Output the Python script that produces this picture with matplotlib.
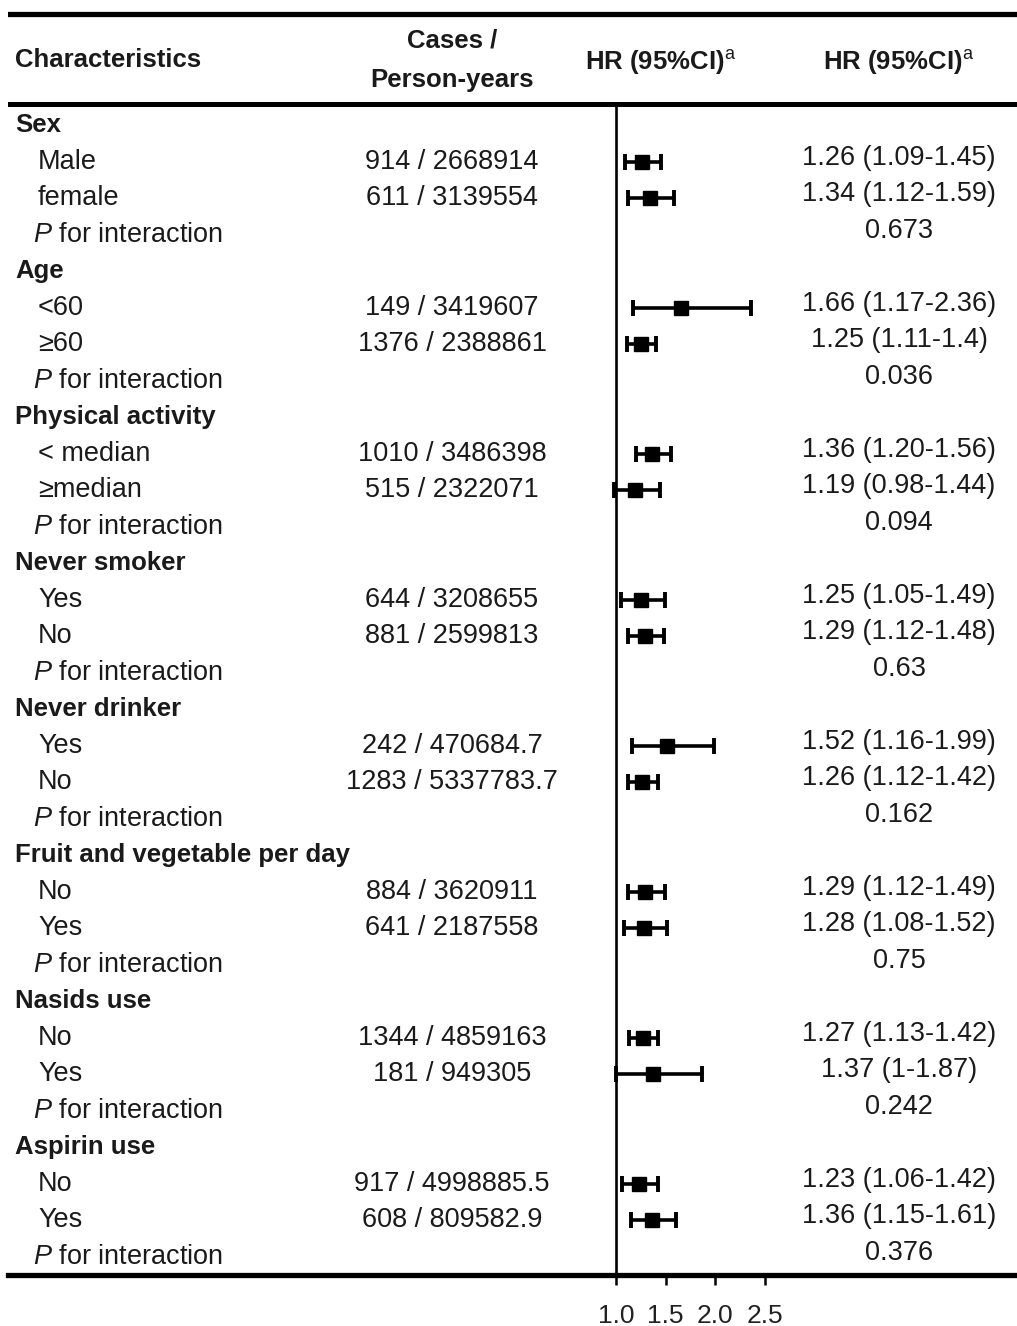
import matplotlib.pyplot as plt
import matplotlib.transforms as mtransforms

plt.rcParams["font.family"] = ["Liberation Sans", "DejaVu Sans"]
plt.rcParams["mathtext.fontset"] = "custom"
plt.rcParams["mathtext.rm"] = "Liberation Sans"
plt.rcParams["mathtext.it"] = "Liberation Sans:italic"

# Daten
groups = ["Sex", "Age", "Physical activity", "Never smoker", "Never drinker",
          "Fruit and vegetable per day", "Nasids use", "Aspirin use"]
levels = [["Male", "female"], ["<60", "≥60"], ["< median", "≥median"], ["Yes", "No"],
          ["Yes", "No"], ["No", "Yes"], ["No", "Yes"], ["No", "Yes"]]
cases = [["914 / 2668914", "611 / 3139554"], ["149 / 3419607", "1376 / 2388861"],
         ["1010 / 3486398", "515 / 2322071"], ["644 / 3208655", "881 / 2599813"],
         ["242 / 470684.7", "1283 / 5337783.7"], ["884 / 3620911", "641 / 2187558"],
         ["1344 / 4859163", "181 / 949305"], ["917 / 4998885.5", "608 / 809582.9"]]
hr = [[1.26, 1.34], [1.66, 1.25], [1.36, 1.19], [1.25, 1.29],
      [1.52, 1.26], [1.29, 1.28], [1.27, 1.37], [1.23, 1.36]]
lo = [[1.09, 1.12], [1.17, 1.11], [1.20, 0.98], [1.05, 1.12],
      [1.16, 1.12], [1.12, 1.08], [1.13, 1.00], [1.06, 1.15]]
hi = [[1.45, 1.59], [2.36, 1.40], [1.56, 1.44], [1.49, 1.48],
      [1.99, 1.42], [1.49, 1.52], [1.42, 1.87], [1.42, 1.61]]
hr_text = [["1.26 (1.09-1.45)", "1.34 (1.12-1.59)"], ["1.66 (1.17-2.36)", "1.25 (1.11-1.4)"],
           ["1.36 (1.20-1.56)", "1.19 (0.98-1.44)"], ["1.25 (1.05-1.49)", "1.29 (1.12-1.48)"],
           ["1.52 (1.16-1.99)", "1.26 (1.12-1.42)"], ["1.29 (1.12-1.49)", "1.28 (1.08-1.52)"],
           ["1.27 (1.13-1.42)", "1.37 (1-1.87)"], ["1.23 (1.06-1.42)", "1.36 (1.15-1.61)"]]
p_inter = ["0.673", "0.036", "0.094", "0.63", "0.162", "0.75", "0.242", "0.376"]
ticks = [1.0, 1.5, 2.0, 2.5]

W, H = 1017, 1326
fig = plt.figure(figsize=(W / 100, H / 100), dpi=100)

# Achse ueber die ganze Breite; x = HR, y = Zeilenindex
row0, step = 125, 36.5   # Pixel der ersten Zeile, Zeilenabstand
left_px, bottom_px = 8, 1275
ax = fig.add_axes([left_px / W, (H - bottom_px) / H, 1 - left_px / W, bottom_px / H])
ppu = 99.0  # Pixel pro HR-Einheit
ax.set_xlim(1 - (616 - left_px) / ppu, 1 + (W - 616) / ppu)
ax.set_ylim((bottom_px - row0) / step, -row0 / step)

for s in ["top", "left", "right"]:
    ax.spines[s].set_visible(False)
ax.spines["bottom"].set_linewidth(3.8)
ax.set_yticks([])
ax.set_xticks(ticks)
ax.set_xticklabels([f"{t:.1f}" for t in ticks], fontsize=19, color="#222222")
ax.tick_params(axis="x", direction="out", length=7, width=1.8, pad=14)

def ypix(p):
    return (p - row0) / step

ax.axhline(ypix(14), color="black", lw=3.8)
ax.axhline(ypix(104), color="black", lw=3.6)
ax.vlines(1.0, ypix(104), (bottom_px - row0) / step, color="black", lw=1.9)

tr = mtransforms.blended_transform_factory(fig.transFigure, ax.transData)
x_grp, x_sub, x_p, x_case, x_hr = 15 / W, 38 / W, 33 / W, 452 / W, 899 / W
txt = "#1a1a1a"

# Kopfzeile
ax.text(x_grp, ypix(60), "Characteristics", transform=tr, fontsize=18.5,
        fontweight="bold", va="center", color=txt)
ax.text(x_case, ypix(40), "Cases /", transform=tr, fontsize=18.5,
        fontweight="bold", va="center", ha="center", color=txt)
ax.text(x_case, ypix(80), "Person-years", transform=tr, fontsize=18.5,
        fontweight="bold", va="center", ha="center", color=txt)
for xc in [661 / W, x_hr]:
    ax.text(xc, ypix(62), r"HR (95%CI)$^\mathrm{a}$", transform=tr, fontsize=18.5,
            fontweight="bold", va="center", ha="center", color=txt)

row = 0
for g in range(len(groups)):
    ax.text(x_grp, row, groups[g], transform=tr, fontsize=18.5,
            fontweight="bold", va="center", color=txt)
    row += 1
    for k in range(2):
        ax.text(x_sub, row, levels[g][k], transform=tr, fontsize=19.5,
                va="center", color=txt)
        ax.text(x_case, row, cases[g][k], transform=tr, fontsize=19.5,
                va="center", ha="center", color=txt)
        ax.text(x_hr, row - 0.1, hr_text[g][k], transform=tr, fontsize=19.5,
                va="center", ha="center", color=txt)
        ax.errorbar(hr[g][k], row,
                    xerr=[[hr[g][k] - lo[g][k]], [hi[g][k] - hr[g][k]]],
                    fmt="s", color="black", ms=10.5, lw=2.6, capsize=6, capthick=2.8)
        row += 1
    ax.text(x_p, row, r"$\mathit{P}$ for interaction", transform=tr,
            fontsize=19.5, va="center", color=txt)
    ax.text(x_hr, row - 0.1, p_inter[g], transform=tr, fontsize=19.5,
            va="center", ha="center", color=txt)
    row += 1

fig.savefig("out.png", dpi=100)
